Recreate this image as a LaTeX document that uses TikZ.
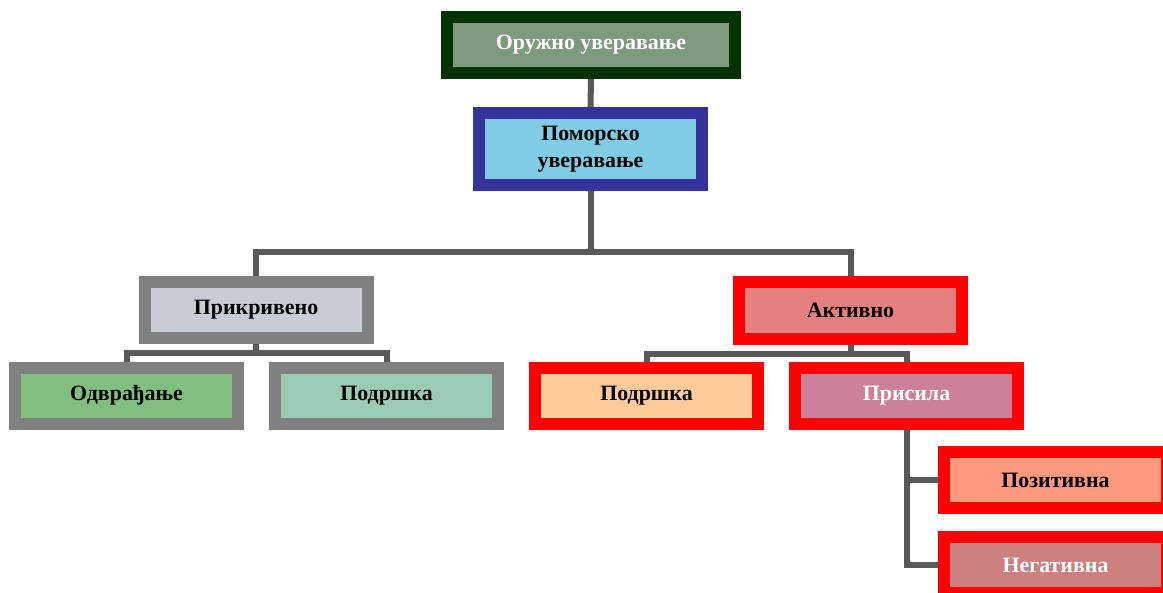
\documentclass[tikz,border=0pt]{standalone}
\usepackage{fontspec}
\setmainfont{Liberation Serif}

\definecolor{darkgreen}{RGB}{0,51,0}
\definecolor{sagefill}{RGB}{127,153,127}
\definecolor{navyline}{RGB}{51,51,153}
\definecolor{skyfill}{RGB}{127,204,228}
\definecolor{grayline}{RGB}{128,128,128}
\definecolor{pearlfill}{RGB}{201,204,212}
\definecolor{greenfill}{RGB}{128,191,128}
\definecolor{mintfill}{RGB}{155,204,179}
\definecolor{redline}{RGB}{255,0,0}
\definecolor{rosefill}{RGB}{228,128,127}
\definecolor{peachfill}{RGB}{255,204,153}
\definecolor{mauvefill}{RGB}{204,128,153}
\definecolor{salmonfill}{RGB}{255,153,128}
\definecolor{dustyfill}{RGB}{204,128,128}
\definecolor{linkgray}{RGB}{89,89,89}

\begin{document}
\begin{tikzpicture}[x=1bp, y=-1bp,
    box/.style={rectangle, line width=12bp, minimum width=223bp, minimum height=56bp,
        inner sep=0pt, align=center, font=\fontsize{22}{27}\selectfont\bfseries},
    link/.style={draw=linkgray, line width=6bp}]

    \useasboundingbox (0,0) rectangle (1163,593);
    \clip (0,0) rectangle (1163,593);

    % top of the tree
    \node[box, draw=darkgreen, fill=sagefill, text=white, minimum width=288bp] (oruzno) at (591,45) {Оружно уверавање};
    \node[box, draw=navyline, fill=skyfill, minimum height=72bp] (pomorsko) at (590.5,149) {Поморско\\уверавање};

    % covert side
    \node[box, draw=grayline, fill=pearlfill] (prikriveno) at (256,310) {Прикривено};
    \node[box, draw=grayline, fill=greenfill] (odvracanje) at (126.5,395.5) {Одврађање};
    \node[box, draw=grayline, fill=mintfill] (podrskaL) at (386.5,395.5) {Подршка};

    % active side
    \node[box, draw=redline, fill=rosefill] (aktivno) at (850.5,310.5) {Активно};
    \node[box, draw=redline, fill=peachfill] (podrskaR) at (646.5,395.5) {Подршка};
    \node[box, draw=redline, fill=mauvefill, text=white] (prisila) at (906.5,395.5) {Присила};
    \node[box, draw=redline, fill=salmonfill] (pozitivna) at (1055.5,480) {Позитивна};
    \node[box, draw=redline, fill=dustyfill, text=white] (negativna) at (1055.5,565) {Негативна};

    % connectors
    \draw[link] (oruzno.south) -- (pomorsko.north);
    \draw[link] (pomorsko.south) -- ++(0,61) -| (prikriveno.north);
    \draw[link] (pomorsko.south) ++(0,61) -| (aktivno.north);

    \draw[link] (prikriveno.south) -- ++(0,9) -| (odvracanje.north);
    \draw[link] (prikriveno.south) ++(0,9) -| (podrskaL.north);

    \draw[link] (aktivno.south) -- ++(0,9) -| (podrskaR.north);
    \draw[link] (aktivno.south) ++(0,9) -| (prisila.north);

    \draw[link] (prisila.south) |- (pozitivna.west);
    \draw[link] (prisila.south) |- (negativna.west);

\end{tikzpicture}
\end{document}
